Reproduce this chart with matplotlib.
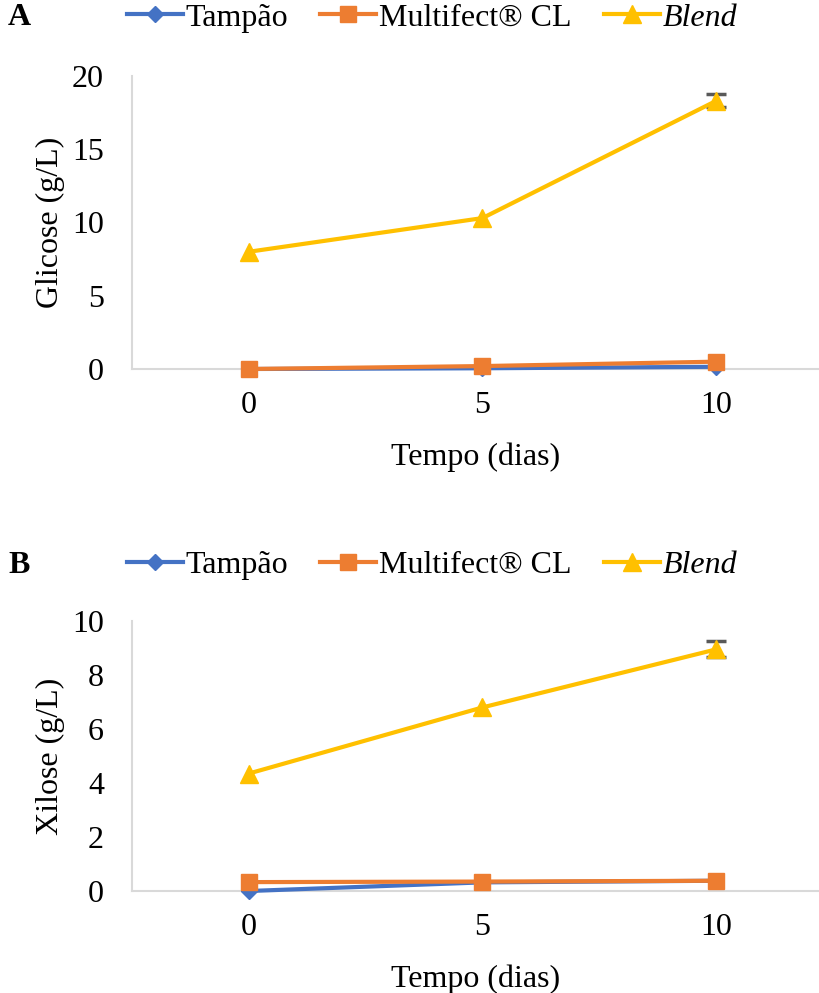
import numpy as np
import matplotlib
matplotlib.use('Agg')
import matplotlib.pyplot as plt

plt.rcParams['font.family'] = ['Liberation Serif', 'DejaVu Serif']

dias = [0, 5, 10]
series = ['Tampão', 'Multifect® CL', 'Blend']
cores = ['#4472C4', '#ED7D31', '#FFC000']
marcadores = ['D', 's', '^']
tamanhos = [8, 11, 13]

glicose_tampao = [0.0, 0.05, 0.15]
glicose_multifect = [0.0, 0.2, 0.5]
glicose_blend = [8.0, 10.3, 18.3]
glicose_blend_err = [0.0, 0.0, 0.45]

xilose_tampao = [0.0, 0.32, 0.38]
xilose_multifect = [0.33, 0.35, 0.38]
xilose_blend = [4.35, 6.8, 8.95]
xilose_blend_err = [0.0, 0.0, 0.3]

fs = 23
fig = plt.figure(figsize=(8.19, 9.93), dpi=100)
axA = fig.add_axes([0.161, 0.6284, 0.839, 0.2951])
axB = fig.add_axes([0.161, 0.1027, 0.839, 0.2719])


def painel(ax, dados, erros, ylim, yticks, ylabel, letra, ylet):
    for i, (nome, y) in enumerate(zip(series, dados)):
        ax.plot(dias, y, color=cores[i], marker=marcadores[i], markersize=tamanhos[i],
                lw=3, label=nome, zorder=3 + i, clip_on=False)
    # barras de erro atras da serie Blend
    idx = [k for k, e in enumerate(erros) if e > 0]
    ax.errorbar([dias[k] for k in idx], [dados[2][k] for k in idx],
                yerr=[erros[k] for k in idx], fmt='none', ecolor='#595959',
                elinewidth=1.5, capsize=7, capthick=2.5, zorder=4.5, clip_on=False)
    ax.set_xlim(-2.5, 12.2)
    ax.set_ylim(*ylim)
    ax.set_xticks(dias)
    ax.set_yticks(yticks)
    ax.tick_params(length=0, labelsize=fs)
    ax.tick_params(axis='x', pad=16)
    ax.tick_params(axis='y', pad=20)
    for s in ['top', 'right']:
        ax.spines[s].set_visible(False)
    for s in ['left', 'bottom']:
        ax.spines[s].set_color('#D9D9D9')
        ax.spines[s].set_linewidth(1.5)
    ax.set_xlabel('Tempo (dias)', fontsize=fs, labelpad=16)
    ax.set_ylabel(ylabel, fontsize=fs)
    ax.yaxis.set_label_coords(-0.097, 0.5)
    leg = ax.legend(loc='center', bbox_to_anchor=(0.437, ylet), ncol=3, frameon=False,
                    fontsize=fs, handlelength=1.75, handletextpad=0.1,
                    columnspacing=1.0, borderaxespad=0, borderpad=0)
    leg.get_texts()[2].set_fontstyle('italic')
    yf = fig.transFigure.inverted().transform(ax.transAxes.transform((0, ylet)))[1]
    fig.text(0.01, yf, letra, fontsize=fs, fontweight='bold', va='center')


painel(axA, [glicose_tampao, glicose_multifect, glicose_blend], glicose_blend_err,
       (0, 20), [0, 5, 10, 15, 20], 'Glicose (g/L)', 'A', 1.198)
painel(axB, [xilose_tampao, xilose_multifect, xilose_blend], xilose_blend_err,
       (0, 10), [0, 2, 4, 6, 8, 10], 'Xilose (g/L)', 'B', 1.207)

fig.savefig('out.png', dpi=100)
